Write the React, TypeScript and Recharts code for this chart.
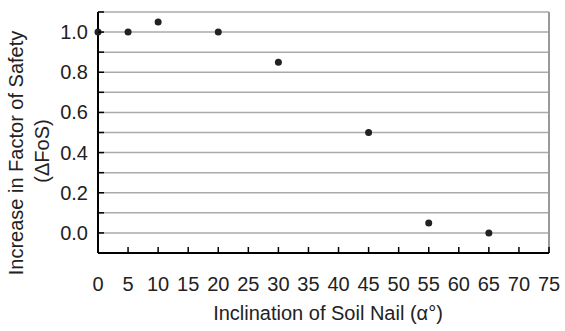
import { ScatterChart, Scatter, XAxis, YAxis, CartesianGrid, ReferenceLine } from "recharts";

const inclination = [0, 5, 10, 20, 30, 45, 55, 65];
const deltaFoS = [1.0, 1.0, 1.05, 1.0, 0.85, 0.5, 0.05, 0.0];
const xTicks = [0, 5, 10, 15, 20, 25, 30, 35, 40, 45, 50, 55, 60, 65, 70, 75];
const yTicks = [-0.1, 0, 0.1, 0.2, 0.3, 0.4, 0.5, 0.6, 0.7, 0.8, 0.9, 1.0, 1.1];
const yLabels = ["0.0", "0.2", "0.4", "0.6", "0.8", "1.0"];

const data = inclination.map((x, i) => ({ x, y: deltaFoS[i] }));

const FONT = "'Liberation Sans', Arial, Helvetica, sans-serif";

function XTick(props: any) {
  const { x, y, payload } = props;
  return (
    <g>
      <line x1={x} x2={x} y1={y} y2={y - 6} stroke="#000" strokeWidth={1.5} />
      <text x={x} y={y + 38} textAnchor="middle" fontSize={20} fill="#222" fontFamily={FONT}>
        {payload.value}
      </text>
    </g>
  );
}

function YTick(props: any) {
  const { x, y, payload } = props;
  const label = payload.value.toFixed(1);
  return (
    <g>
      <line x1={x} x2={x + 6} y1={y} y2={y} stroke="#000" strokeWidth={1.5} />
      {yLabels.includes(label) && (
        <text x={x - 10} y={y + 7} textAnchor="end" fontSize={20} fill="#222" fontFamily={FONT}>
          {label}
        </text>
      )}
    </g>
  );
}

function YTitle() {
  return (
    <g fontFamily={FONT} fontSize={20} fill="#222">
      <text x={16} y={153} textAnchor="middle" dominantBaseline="central" transform="rotate(-90 16 153)">
        Increase in Factor of Safety
      </text>
      <text x={42} y={151} textAnchor="middle" dominantBaseline="central" transform="rotate(-90 42 151)">
        (ΔFoS)
      </text>
    </g>
  );
}

function XTitle() {
  return (
    <text x={328} y={320} textAnchor="middle" fontSize={20} fill="#222" fontFamily={FONT}>
      Inclination of Soil Nail (α°)
    </text>
  );
}

export default function App() {
  return (
    <div style={{ position: "absolute", left: 0, top: 0, background: "#fff" }}>
      <ScatterChart width={565} height={331} margin={{ top: 12, right: 16, bottom: 0, left: 0 }}>
        <CartesianGrid horizontal vertical={false} stroke="#aaa" strokeWidth={1.5} />
        <XAxis
          type="number"
          dataKey="x"
          domain={[0, 75]}
          ticks={xTicks}
          interval={0}
          height={78}
          tickSize={0}
          tickMargin={0}
          tick={<XTick />}
          axisLine={{ stroke: "#000", strokeWidth: 2 }}
          label={<XTitle />}
        />
        <YAxis
          type="number"
          dataKey="y"
          domain={[-0.1, 1.1]}
          ticks={yTicks}
          interval={0}
          width={98}
          tickSize={0}
          tickMargin={0}
          tick={<YTick />}
          axisLine={{ stroke: "#000", strokeWidth: 2 }}
          label={<YTitle />}
        />
        <ReferenceLine x={75} stroke="#999" strokeWidth={2} />
        <Scatter
          data={data}
          isAnimationActive={false}
          shape={(p: any) => <circle cx={p.cx} cy={p.cy} r={3.5} fill="#222" />}
        />
      </ScatterChart>
    </div>
  );
}
